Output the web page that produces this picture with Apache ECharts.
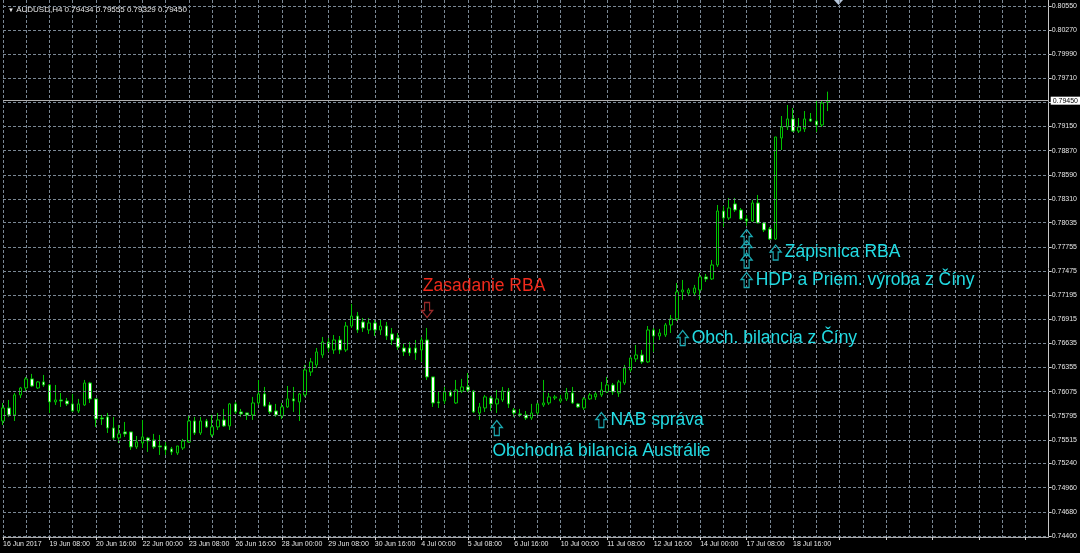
<!DOCTYPE html>
<html><head><meta charset="utf-8">
<script src="https://cdn.jsdelivr.net/npm/echarts@6/dist/echarts.min.js"></script>
<style>html,body{margin:0;padding:0;background:#000}#c{width:1080px;height:553px}</style>
</head><body><div id="c"></div><script>
const symbolName = 'AUDUSD,H4';
const tradingDays = ['16 Jun','19 Jun','20 Jun','21 Jun','22 Jun','23 Jun','26 Jun','27 Jun','28 Jun','29 Jun','30 Jun','3 Jul','4 Jul','5 Jul','6 Jul','7 Jul','10 Jul','11 Jul','12 Jul','13 Jul','14 Jul','17 Jul','18 Jul','19 Jul'];
const barHours = ['00:00','04:00','08:00','12:00','16:00','20:00'];
const futureSlots = 38;
// [open, close, low, high]
const ohlc = [
[0.75734,0.75885,0.75688,0.75943],[0.75885,0.75804,0.75781,0.75978],[0.75804,0.76036,0.75734,0.76059],[0.76036,0.76117,0.76001,0.76129],
[0.76117,0.76222,0.76071,0.76245],[0.76222,0.76140,0.76129,0.76280],[0.76117,0.76187,0.76106,0.76198],[0.76187,0.76152,0.76129,0.76268],
[0.76152,0.75955,0.75827,0.76164],[0.75955,0.75978,0.75920,0.76152],[0.75978,0.75966,0.75897,0.76059],[0.75966,0.75932,0.75908,0.76001],
[0.75932,0.75850,0.75839,0.76048],[0.75850,0.75932,0.75827,0.75990],[0.75920,0.76175,0.75908,0.76210],[0.76175,0.75990,0.75943,0.76187],
[0.75990,0.75758,0.75665,0.75990],[0.75769,0.75758,0.75688,0.75804],[0.75781,0.75653,0.75595,0.75827],[0.75653,0.75537,0.75514,0.75781],
[0.75537,0.75584,0.75479,0.75688],[0.75607,0.75584,0.75549,0.75723],[0.75607,0.75433,0.75398,0.75607],[0.75433,0.75491,0.75410,0.75560],
[0.75479,0.75549,0.75421,0.75746],[0.75537,0.75502,0.75375,0.75549],[0.75514,0.75433,0.75410,0.75584],[0.75444,0.75433,0.75340,0.75572],
[0.75444,0.75398,0.75340,0.75491],[0.75410,0.75375,0.75340,0.75433],[0.75363,0.75444,0.75340,0.75444],[0.75421,0.75502,0.75398,0.75526],
[0.75491,0.75734,0.75479,0.75792],[0.75734,0.75595,0.75572,0.75781],[0.75595,0.75734,0.75572,0.75781],[0.75734,0.75665,0.75653,0.75758],
[0.75572,0.75665,0.75549,0.75804],[0.75665,0.75746,0.75630,0.75827],[0.75746,0.75676,0.75665,0.75874],[0.75676,0.75932,0.75630,0.75943],
[0.75932,0.75839,0.75816,0.75955],[0.75839,0.75816,0.75781,0.75874],[0.75827,0.75804,0.75746,0.75827],[0.75804,0.75943,0.75746,0.76013],
[0.75943,0.76048,0.75920,0.76210],[0.76048,0.75908,0.75897,0.76129],[0.75920,0.75839,0.75816,0.75955],[0.75850,0.75804,0.75781,0.75932],
[0.75792,0.75897,0.75758,0.75943],[0.75897,0.75990,0.75885,0.76140],[0.75990,0.75966,0.75839,0.76129],[0.75955,0.76048,0.75734,0.76059],
[0.76036,0.76326,0.76013,0.76384],[0.76303,0.76419,0.76256,0.76465],[0.76384,0.76535,0.76349,0.76581],[0.76500,0.76651,0.76465,0.76709],
[0.76651,0.76581,0.76535,0.76697],[0.76558,0.76674,0.76512,0.76732],[0.76674,0.76558,0.76512,0.76720],[0.76558,0.76836,0.76535,0.76883],
[0.76836,0.76952,0.76813,0.77092],[0.76952,0.76790,0.76755,0.76999],[0.76883,0.76813,0.76767,0.76929],[0.76790,0.76871,0.76744,0.76929],
[0.76871,0.76790,0.76720,0.76906],[0.76790,0.76836,0.76732,0.76906],[0.76836,0.76720,0.76674,0.76883],[0.76744,0.76674,0.76616,0.76813],
[0.76697,0.76593,0.76558,0.76755],[0.76581,0.76535,0.76488,0.76628],[0.76581,0.76523,0.76488,0.76651],[0.76581,0.76523,0.76442,0.76674],
[0.76558,0.76674,0.76419,0.76709],[0.76674,0.76245,0.76210,0.76813],[0.76245,0.75943,0.75897,0.76245],[0.75955,0.75943,0.75885,0.76071],
[0.75966,0.76071,0.75932,0.76129],[0.76071,0.76024,0.76013,0.76094],[0.75943,0.76094,0.75932,0.76210],[0.76082,0.76129,0.76059,0.76222],
[0.76129,0.76094,0.76071,0.76291],[0.76082,0.75839,0.75827,0.76094],[0.75827,0.75897,0.75746,0.75943],[0.75885,0.76013,0.75839,0.76036],
[0.76001,0.75932,0.75850,0.76024],[0.75932,0.75990,0.75827,0.76094],[0.75978,0.76082,0.75955,0.76129],[0.76082,0.75932,0.75885,0.76117],
[0.75862,0.75827,0.75781,0.75885],[0.75816,0.75804,0.75781,0.75874],[0.75804,0.75769,0.75746,0.75850],[0.75769,0.75827,0.75746,0.75932],
[0.75827,0.75932,0.75804,0.75943],[0.75920,0.75943,0.75897,0.76210],[0.75943,0.76013,0.75920,0.76059],[0.76001,0.76013,0.75978,0.76036],
[0.75966,0.75990,0.75943,0.76036],[0.75990,0.76059,0.75966,0.76117],[0.76059,0.75943,0.75932,0.76129],[0.75932,0.75897,0.75885,0.75943],
[0.75885,0.75990,0.75862,0.76013],[0.75990,0.76036,0.75978,0.76059],[0.76013,0.76048,0.75978,0.76082],[0.76036,0.76094,0.76013,0.76187],
[0.76071,0.76152,0.76059,0.76245],[0.76152,0.76071,0.76036,0.76175],[0.76059,0.76187,0.76013,0.76210],[0.76175,0.76349,0.76152,0.76384],
[0.76326,0.76465,0.76303,0.76477],[0.76454,0.76500,0.76419,0.76616],[0.76500,0.76419,0.76396,0.76558],[0.76419,0.76790,0.76407,0.76836],
[0.76790,0.76720,0.76535,0.76813],[0.76720,0.76755,0.76674,0.76802],[0.76732,0.76848,0.76709,0.76871],[0.76848,0.76918,0.76755,0.76964],
[0.76918,0.77231,0.76894,0.77335],[0.77231,0.77254,0.77138,0.77370],[0.77220,0.77254,0.77182,0.77277],[0.77220,0.77277,0.77182,0.77312],
[0.77254,0.77405,0.77138,0.77450],[0.77405,0.77382,0.77347,0.77440],[0.77382,0.77544,0.77370,0.77602],[0.77544,0.78170,0.77521,0.78240],
[0.78170,0.78089,0.77985,0.78228],[0.78089,0.78205,0.78066,0.78321],[0.78252,0.78182,0.78159,0.78321],[0.78182,0.78078,0.78066,0.78205],
[0.78078,0.78054,0.77996,0.78124],[0.78054,0.78263,0.78043,0.78298],[0.78263,0.78031,0.78031,0.78356],[0.78031,0.77950,0.77926,0.78043],
[0.77962,0.77845,0.77834,0.77985],[0.77845,0.79029,0.77834,0.79029],[0.79017,0.79145,0.78878,0.79272],[0.79145,0.79238,0.79110,0.79400],
[0.79238,0.79098,0.79087,0.79365],[0.79098,0.79145,0.79075,0.79249],[0.79122,0.79238,0.79087,0.79330],[0.79238,0.79214,0.79203,0.79307],
[0.79214,0.79168,0.79087,0.79446],[0.79168,0.79423,0.79145,0.79446],[0.79434,0.79450,0.79329,0.79555]
];
const yTickLabels = ['0.74400','0.74680','0.74960','0.75240','0.75515','0.75795','0.76075','0.76355','0.76635','0.76915','0.77195','0.77475','0.77755','0.78035','0.78310','0.78590','0.78870','0.79150','0.79710','0.79990','0.80270','0.80550'];
const yHiddenGrid = ['0.79430'];
const currentPrice = 0.79450;
const yMin = 0.74388, yMax = 0.80618;
// annotations anchored at [bar index, price]
const annotations = [
  {kind:'redText', text:'Zasadanie RBA', bar:72, price:0.77300},
  {kind:'downArrow', bar:73, price:0.77022},
  {kind:'upArrow', bar:85, price:0.75653},
  {kind:'cyanText', text:'Obchodná bilancia Austrálie', bar:84, price:0.75386},
  {kind:'upArrow', text:'NAB správa', bar:103, price:0.75746},
  {kind:'upArrow', text:'Obch. bilancia z Číny', bar:117, price:0.76697},
  {kind:'upArrow', bar:128, price:0.77869},
  {kind:'upArrow', bar:128, price:0.77741},
  {kind:'upArrow', bar:128, price:0.77596},
  {kind:'upArrow', text:'HDP a Priem. výroba z Číny', bar:128, price:0.77370},
  {kind:'upArrow', text:'Zápisnica RBA', bar:133, price:0.77689}
];

const categories = [];
tradingDays.forEach(d => barHours.forEach(h => categories.push(d + ' ' + h)));
categories.length = ohlc.length;
for (let i = 0; i < futureSlots; i++) categories.push('_f' + i);

const CYAN = '#22dbe3', CYAN_ARROW = '#1ba9b2', RED = '#f02a1c', RED_ARROW = '#9a2a2a';
const FONT = 'Liberation Sans, Arial, sans-serif';
const UP = 'path://M5.5,0 L11,7 L8,7 L8,15 L3,15 L3,7 L0,7 Z';
const DOWN = 'path://M3,0 L8,0 L8,8 L11,8 L5.5,15 L0,8 L3,8 Z';
const markItems = annotations.map(a => {
  const item = {coord: [a.bar, a.price]};
  if (a.kind === 'redText' || a.kind === 'cyanText') {
    item.symbol = 'circle'; item.symbolSize = 1; item.itemStyle = {color: 'rgba(0,0,0,0)'};
    item.label = {show: true, position: 'right', distance: 1, formatter: a.text,
      color: a.kind === 'redText' ? RED : CYAN, fontSize: 17.5, fontFamily: FONT};
  } else {
    const down = a.kind === 'downArrow';
    item.symbol = down ? DOWN : UP; item.symbolSize = [11, 15]; item.symbolKeepAspect = false;
    item.itemStyle = {color: 'rgba(0,0,0,0)', borderColor: down ? RED_ARROW : CYAN_ARROW, borderWidth: 1.3};
    item.label = a.text ? {show: true, position: 'right', distance: 3, formatter: a.text, color: CYAN, fontSize: 17.5, fontFamily: FONT} : {show: false};
  }
  return item;
});

const last = ohlc[ohlc.length - 1];
const titleText = symbolName + ' ' + [last[0], last[3], last[2], last[1]].map(v => v.toFixed(5)).join(' ');
const gridVals = yTickLabels.concat(yHiddenGrid).map(Number);
const GRID = '#7a8794';

const chart = echarts.init(document.getElementById('c'), null, {renderer: 'canvas'});
chart.setOption({
  backgroundColor: '#000',
  animation: false,
  title: {text: '{tri|▼} ' + titleText, left: 3, top: 1,
    textStyle: {fontSize: 8, color: '#e6e6e6', fontWeight: 'normal', fontFamily: FONT,
      rich: {tri: {fontSize: 6, color: '#e6e6e6'}}}},
  grid: {left: 2.3, right: 29, top: 0, bottom: 16},
  xAxis: {
    type: 'category', data: categories, boundaryGap: false,
    axisLine: {show: true, lineStyle: {color: '#a8a8a8'}},
    axisTick: {show: true, interval: 7, length: 3, lineStyle: {color: '#cfcfcf'}},
    axisLabel: {interval: 7, align: 'left', margin: 4, fontSize: 7, color: '#e6e6e6', fontFamily: FONT,
      formatter: (v, i) => i >= ohlc.length ? '' : (i === 0 ? tradingDays[0] + ' 2017' : v)},
    splitLine: {show: true, interval: 3, lineStyle: {color: GRID, type: [3, 2], width: 1}}
  },
  yAxis: {
    type: 'value', position: 'right', min: yMin, max: yMax, scale: true,
    axisLine: {show: true, lineStyle: {color: '#c8c8c8'}},
    axisTick: {show: true, length: 3, customValues: gridVals, lineStyle: {color: '#cfcfcf'}},
    axisLabel: {customValues: yTickLabels.map(Number), margin: 3, fontSize: 7, color: '#e6e6e6', fontFamily: FONT,
      formatter: v => v.toFixed(5)},
    splitLine: {show: false}
  },
  series: [{
    type: 'line', data: [], z: 1, silent: true,
    markLine: {silent: true, precision: 5, symbol: ['none', 'none'], animation: false, label: {show: false},
      lineStyle: {color: GRID, type: [3, 2], width: 1},
      data: gridVals.map(v => ({yAxis: v}))}
  }, {
    type: 'candlestick', data: ohlc, barWidth: 3, clip: false, z: 3,
    itemStyle: {color: '#000000', color0: '#ffffff', borderColor: '#00c400', borderColor0: '#00c400', borderColorDoji: '#00c400', borderWidth: 1}
  }, {
    type: 'line', data: [], z: 4, silent: true,
    markLine: {silent: true, precision: 5, symbol: ['none', 'none'], animation: false,
      lineStyle: {color: '#b0b0b0', type: 'solid', width: 1},
      label: {position: 'end', distance: 2, formatter: currentPrice.toFixed(5), backgroundColor: '#ffffff', color: '#000', fontSize: 7, fontFamily: FONT, padding: [1, 2, 0, 2]},
      data: [{yAxis: currentPrice}]},
    markPoint: {silent: true, animation: false, data: markItems}
  }],
  graphic: [{type: 'polygon', shape: {points: [[834, 0], [843, 0], [838.5, 5]]}, style: {fill: '#b8c8dc'}}]
});
</script></body></html>
